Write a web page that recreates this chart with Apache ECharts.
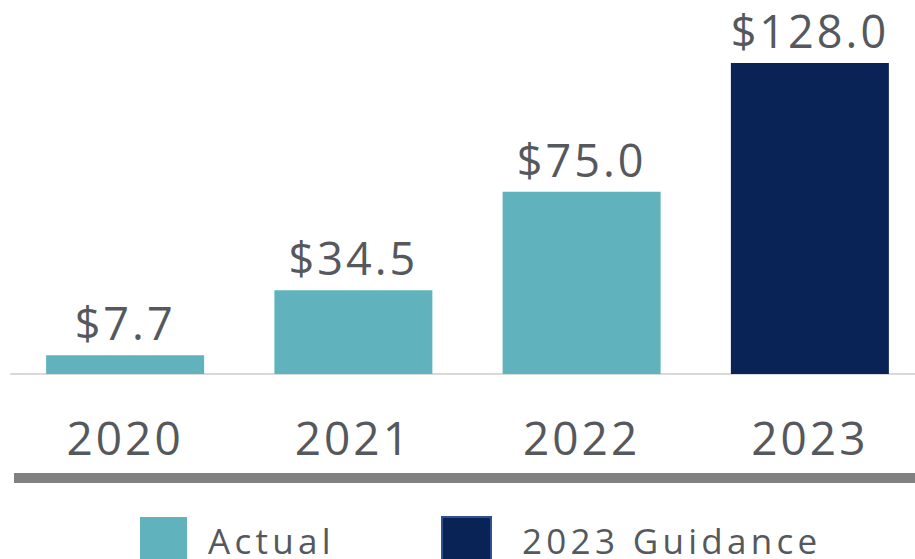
<!DOCTYPE html>
<html>
<head>
<meta charset="utf-8">
<script src="https://cdn.jsdelivr.net/npm/echarts@6/dist/echarts.min.js"></script>
<style>
  html, body { margin: 0; padding: 0; background: #fff; }
  #chart { width: 915px; height: 559px; letter-spacing: 3px; }
  #chart text[style*="35px"] { letter-spacing: 4.3px; }
</style>
</head>
<body>
<div id="chart"></div>
<script>
// data (USD, millions)
const years = ["2020", "2021", "2022", "2023"];
const actual = [7.7, 34.5, 75.0, null];
const guidance = [null, null, null, 128.0];
const seriesNames = ["Actual", "2023 Guidance"];

const textColor = "#55585d";
const fontFamily = "'Source Sans Pro', 'Open Sans', sans-serif";

const valueLabel = {
	show: true,
	position: "top",
	distance: 10,
	color: textColor,
	fontSize: 45,
	fontFamily: fontFamily,
	formatter: (p) => "$" + p.value.toFixed(1),
};

var myChart = echarts.init(document.getElementById("chart"), null, { renderer: "svg" });
myChart.setOption({
	animation: false,
	grid: {
		left: 11,
		width: 913,
		top: 63,
		bottom: 185,
		containLabel: false,
		outerBoundsMode: "none",
	},
	xAxis: {
		type: "category",
		data: years,
		axisTick: { show: false },
		axisLine: {
			lineStyle: { color: "#d9d9d9", width: 2 },
		},
		axisLabel: {
			margin: 40,
			color: textColor,
			fontSize: 46,
			fontFamily: fontFamily,
		},
	},
	yAxis: {
		type: "value",
		min: 0,
		max: 128,
		show: false,
		splitLine: { show: false },
	},
	legend: [
		{
			data: [seriesNames[0]],
			left: 135,
			top: 512,
			icon: "rect",
			itemWidth: 47,
			itemHeight: 47,
			textStyle: {
				color: textColor,
				fontSize: 35,
				fontFamily: fontFamily,
				padding: [0, 0, 0, 16],
			},
		},
		{
			data: [
				{
					name: seriesNames[1],
					itemStyle: { borderColor: "#2f528f", borderWidth: 2 },
				},
			],
			left: 436,
			top: 511,
			icon: "rect",
			itemWidth: 49,
			itemHeight: 47,
			textStyle: {
				color: textColor,
				fontSize: 35,
				fontFamily: fontFamily,
				padding: [0, 0, 0, 26],
			},
		},
	],
	graphic: [
		{
			type: "rect",
			left: 14,
			top: 473,
			shape: { width: 901, height: 10 },
			style: { fill: "#808080" },
		},
	],
	series: [
		{
			name: seriesNames[0],
			type: "bar",
			data: actual,
			barWidth: 158,
			barGap: "-100%",
			itemStyle: { color: "#60b3bd" },
			label: valueLabel,
		},
		{
			name: seriesNames[1],
			type: "bar",
			data: guidance,
			barWidth: 158,
			barGap: "-100%",
			itemStyle: { color: "#0a2357" },
			label: valueLabel,
		},
	],
});
</script>
</body>
</html>
